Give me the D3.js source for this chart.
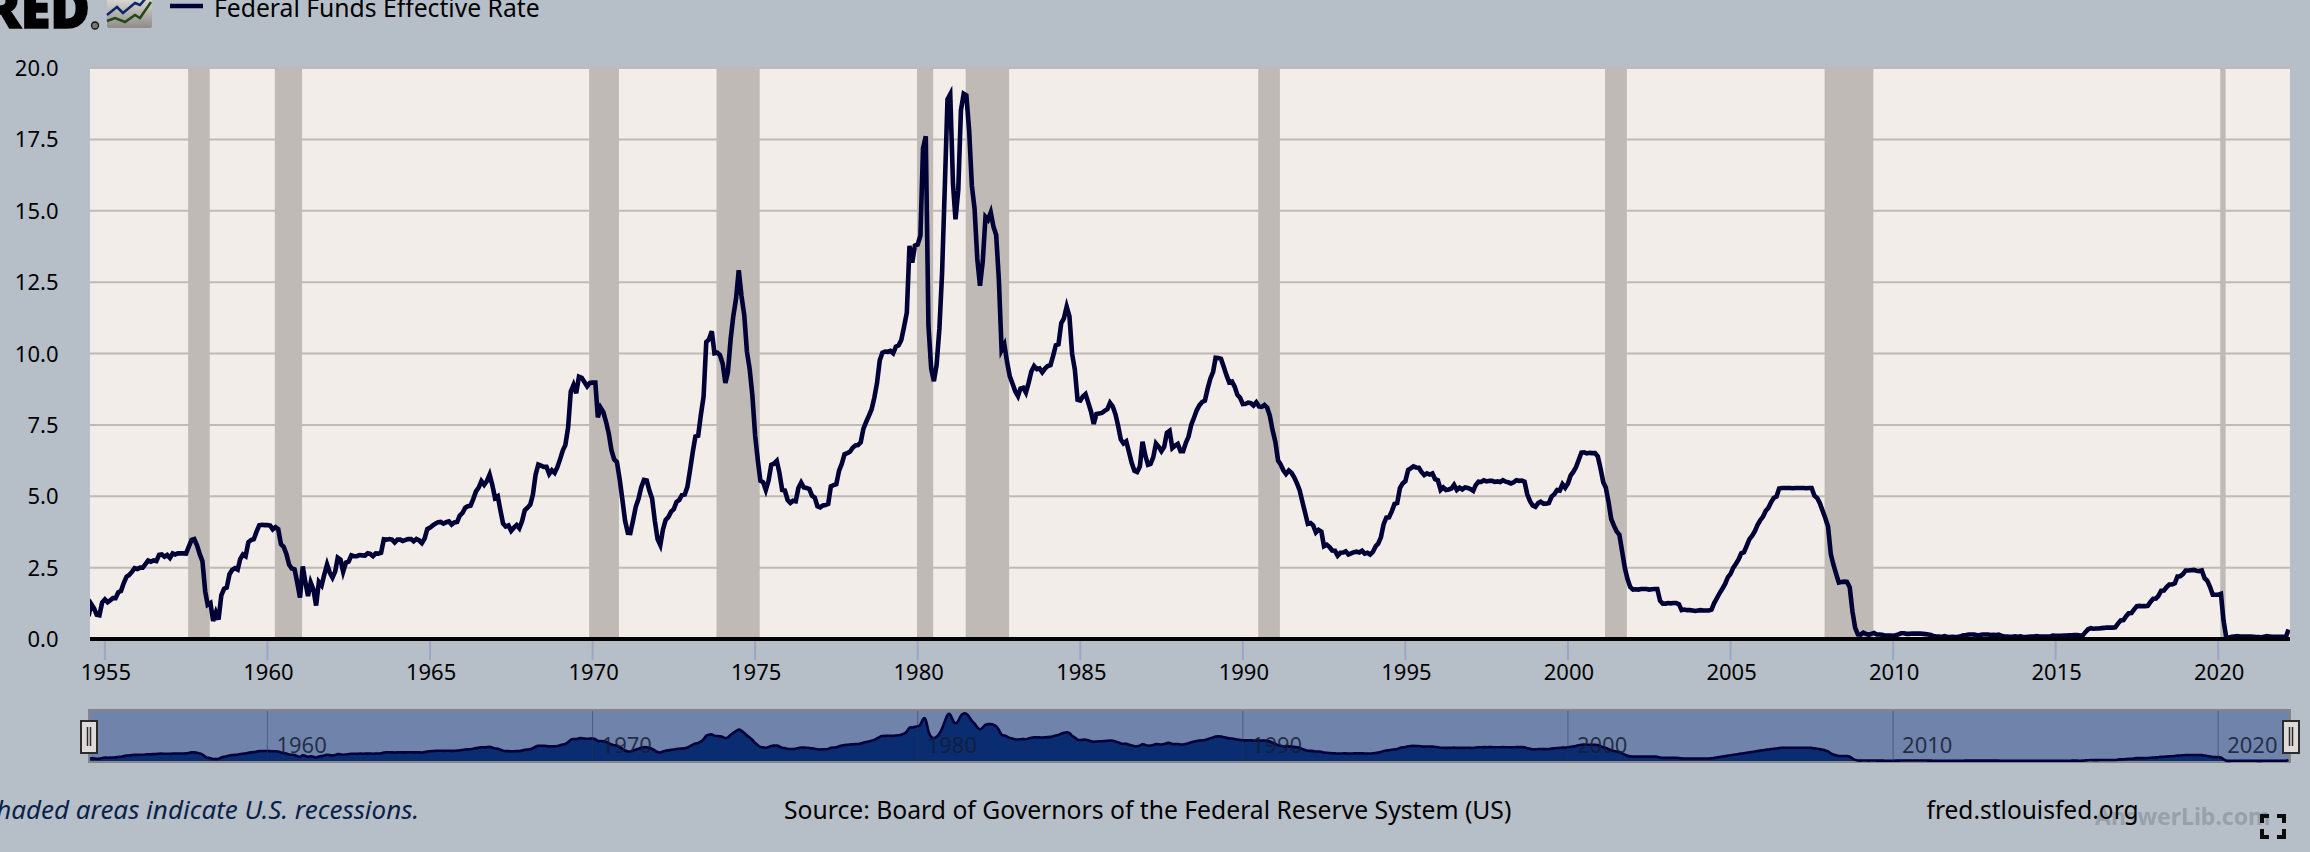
<!DOCTYPE html>
<html><head><meta charset="utf-8">
<script src="https://cdn.jsdelivr.net/npm/d3@7/dist/d3.min.js"></script>
<style>
html,body{margin:0;padding:0;background:#b6bfc8;overflow:hidden}
svg{display:block}
text{font-family:"Noto Sans","Open Sans",sans-serif}
</style></head><body>
<svg id="c" width="2310" height="852"></svg>
<script>
const seriesName = "Federal Funds Effective Rate";
const startMonth = [1954, 7];
const rates = [
0.80,1.22,1.07,0.85,0.83,1.28,
1.39,1.29,1.35,1.43,1.43,1.64,1.68,1.96,2.18,2.24,2.35,2.48,
2.45,2.50,2.50,2.62,2.75,2.71,2.75,2.73,2.95,2.96,2.88,2.94,
2.84,3.00,2.96,3.00,3.00,3.00,2.99,3.24,3.47,3.50,3.28,2.98,
2.72,1.67,1.20,1.26,0.63,0.93,0.68,1.53,1.76,1.80,2.27,2.42,
2.48,2.43,2.80,2.96,2.90,3.39,3.47,3.50,3.76,3.98,4.00,3.99,
3.99,3.97,3.84,3.92,3.85,3.32,3.23,2.98,2.60,2.47,2.44,1.98,
1.45,2.54,2.02,1.50,1.98,1.73,1.17,2.00,1.88,2.26,2.61,2.33,
2.15,2.37,2.85,2.78,2.36,2.68,2.71,2.93,2.90,2.90,2.94,2.93,
2.92,3.00,2.98,2.90,3.00,2.99,3.02,3.49,3.48,3.50,3.48,3.38,
3.48,3.48,3.43,3.47,3.50,3.50,3.42,3.50,3.45,3.36,3.52,3.85,
3.90,3.98,4.04,4.09,4.10,4.04,4.09,4.12,4.01,4.08,4.10,4.32,
4.42,4.60,4.65,4.67,4.90,5.17,5.30,5.53,5.40,5.53,5.76,5.40,
4.94,5.00,4.53,4.05,3.94,3.98,3.79,3.90,3.99,3.88,4.13,4.51,
4.60,4.71,5.05,5.76,6.11,6.07,6.03,6.03,5.78,5.91,5.82,6.02,
6.30,6.61,6.79,7.41,8.67,8.90,8.61,9.19,9.15,9.00,8.85,8.97,
8.98,8.98,7.76,8.10,7.95,7.61,7.21,6.61,6.29,6.20,5.60,4.90,
4.14,3.72,3.71,4.16,4.63,4.91,5.31,5.57,5.55,5.20,4.91,4.14,
3.50,3.29,3.83,4.17,4.27,4.46,4.55,4.80,4.87,5.04,5.06,5.33,
5.94,6.58,7.09,7.12,7.84,8.49,10.40,10.50,10.78,10.01,10.03,9.95,
9.65,8.97,9.35,10.51,11.31,11.93,12.92,12.01,11.34,10.06,9.45,8.53,
7.13,6.24,5.54,5.49,5.22,5.55,6.10,6.14,6.24,5.82,5.22,5.20,
4.87,4.77,4.84,4.82,5.29,5.48,5.31,5.29,5.25,5.02,4.95,4.65,
4.61,4.68,4.69,4.73,5.35,5.39,5.42,5.90,6.14,6.47,6.51,6.56,
6.70,6.78,6.79,6.89,7.36,7.60,7.81,8.04,8.45,8.96,9.76,10.03,
10.07,10.06,10.09,10.01,10.24,10.29,10.47,10.94,11.43,13.77,13.18,13.78,
13.82,14.13,17.19,17.61,10.98,9.47,9.03,9.61,10.87,12.81,15.85,18.90,
19.08,15.93,14.70,15.72,18.52,19.10,19.04,17.82,15.87,15.08,13.31,12.37,
13.22,14.78,14.68,14.94,14.45,14.15,12.59,10.12,10.31,9.71,9.20,8.95,
8.68,8.51,8.77,8.80,8.63,8.98,9.37,9.56,9.45,9.48,9.34,9.47,
9.56,9.59,9.91,10.29,10.32,11.06,11.23,11.64,11.30,9.99,9.43,8.38,
8.35,8.50,8.58,8.27,7.97,7.53,7.88,7.90,7.92,7.99,8.05,8.27,
8.14,7.86,7.48,6.99,6.85,6.92,6.56,6.17,5.89,5.85,6.04,6.91,
6.43,6.10,6.13,6.37,6.85,6.73,6.58,6.73,7.22,7.29,6.69,6.77,
6.83,6.58,6.58,6.87,7.09,7.51,7.75,8.01,8.19,8.30,8.35,8.76,
9.12,9.36,9.85,9.84,9.81,9.53,9.24,8.99,9.02,8.84,8.55,8.45,
8.23,8.24,8.28,8.26,8.18,8.29,8.15,8.13,8.20,8.11,7.81,7.31,
6.91,6.25,6.12,5.91,5.78,5.90,5.82,5.66,5.45,5.21,4.81,4.43,
4.03,4.06,3.98,3.73,3.82,3.76,3.25,3.30,3.22,3.10,3.09,2.92,
3.02,3.03,3.07,2.96,3.00,3.04,3.06,3.03,3.09,2.99,3.02,2.96,
3.05,3.25,3.34,3.56,4.01,4.25,4.26,4.47,4.73,4.76,5.29,5.45,
5.53,5.92,5.98,6.05,6.01,6.00,5.85,5.74,5.80,5.76,5.80,5.60,
5.56,5.22,5.31,5.22,5.24,5.27,5.40,5.22,5.30,5.24,5.31,5.29,
5.25,5.19,5.39,5.51,5.50,5.56,5.52,5.54,5.54,5.50,5.52,5.50,
5.56,5.51,5.49,5.45,5.49,5.56,5.54,5.55,5.51,5.07,4.83,4.68,
4.63,4.76,4.81,4.74,4.74,4.76,4.99,5.07,5.22,5.20,5.42,5.30,
5.45,5.73,5.85,6.02,6.27,6.53,6.54,6.50,6.52,6.51,6.51,6.40,
5.98,5.49,5.31,4.80,4.21,3.97,3.77,3.65,3.07,2.49,2.09,1.82,
1.73,1.74,1.73,1.75,1.75,1.75,1.73,1.74,1.75,1.75,1.34,1.24,
1.24,1.26,1.25,1.26,1.26,1.22,1.01,1.03,1.01,1.01,1.00,0.98,
1.00,1.01,1.00,1.00,1.00,1.03,1.26,1.43,1.61,1.76,1.93,2.16,
2.28,2.50,2.63,2.79,3.00,3.04,3.26,3.50,3.62,3.78,4.00,4.16,
4.29,4.49,4.59,4.79,4.94,4.99,5.27,5.29,5.29,5.29,5.29,5.28,
5.29,5.29,5.29,5.29,5.28,5.29,5.29,5.02,4.94,4.76,4.49,4.24,
3.94,2.98,2.61,2.28,1.98,2.00,2.01,2.00,1.81,0.97,0.39,0.16,
0.15,0.22,0.18,0.15,0.18,0.21,0.16,0.16,0.15,0.12,0.12,0.12,
0.11,0.13,0.16,0.20,0.20,0.18,0.18,0.19,0.19,0.19,0.19,0.18,
0.17,0.16,0.14,0.10,0.09,0.09,0.07,0.10,0.08,0.07,0.08,0.07,
0.08,0.10,0.13,0.14,0.16,0.16,0.16,0.13,0.14,0.16,0.16,0.16,
0.14,0.15,0.14,0.15,0.11,0.09,0.09,0.08,0.08,0.09,0.08,0.09,
0.07,0.07,0.08,0.09,0.09,0.10,0.09,0.09,0.09,0.09,0.09,0.12,
0.11,0.11,0.11,0.12,0.12,0.13,0.13,0.14,0.14,0.12,0.12,0.24,
0.34,0.38,0.36,0.37,0.37,0.38,0.39,0.40,0.40,0.40,0.41,0.54,
0.65,0.66,0.79,0.90,0.91,1.04,1.15,1.16,1.15,1.15,1.16,1.30,
1.41,1.42,1.51,1.69,1.70,1.82,1.91,1.91,1.95,2.19,2.20,2.27,
2.40,2.40,2.41,2.42,2.39,2.38,2.40,2.13,2.04,1.83,1.55,1.55,
1.55,1.58,0.65,0.05,0.05,0.08,0.09,0.10,0.09,0.09,0.09,0.09,
0.09,0.08,0.07,0.07,0.06,0.08,0.10,0.09,0.08,0.08,0.08,0.08,
0.08,0.08,0.33];
const recessionStarts = ["1957-08","1960-04","1969-12","1973-11","1980-01","1981-07","1990-07","2001-03","2007-12","2020-02"];
const recessionEnds   = ["1958-04","1961-02","1970-11","1975-03","1980-07","1982-11","1991-03","2001-11","2009-06","2020-04"];
const yTicks = [0,2.5,5,7.5,10,12.5,15,17.5,20];
const xTickYears = [1955,1960,1965,1970,1975,1980,1985,1990,1995,2000,2005,2010,2015,2020];
const navTickYears = [1960,1970,1980,1990,2000,2010,2020];
const sourceText = "Source: Board of Governors of the Federal Reserve System (US)";
const shadedText = "Shaded areas indicate U.S. recessions.";
const siteText = "fred.stlouisfed.org";
const watermark = "AnswerLib.com";

const parseYM = d3.timeParse("%Y-%m");
const data = rates.map((v,i)=>({date:new Date(startMonth[0],startMonth[1]-1+i,1),v}));
const svg = d3.select("#c");
const L=90,R=2290,T=68,B=639;
const x = d3.scaleTime().domain([new Date(1954,6,1),new Date(2022,2,1)]).range([88.5,2288.5]);
const y = d3.scaleLinear().domain([0,20]).range([B,T]);
const yNav = d3.scaleLinear().domain([0,20]).range([761,711]);
const defs = svg.append("defs");
defs.append("clipPath").attr("id","plotClip").append("rect").attr("x",L).attr("y",0).attr("width",R-L).attr("height",852);

// plot
svg.append("rect").attr("x",L).attr("y",T).attr("width",R-L).attr("height",B-T).attr("fill","#f2ede9");
svg.append("g").selectAll("line").data(yTicks.filter(d=>d>0&&d<20)).join("line")
  .attr("x1",L).attr("x2",R).attr("y1",y).attr("y2",y).attr("stroke","#bfbab5").attr("stroke-width",2);
svg.append("line").attr("x1",L).attr("x2",R).attr("y1",T).attr("y2",T).attr("stroke","#bfbab5").attr("stroke-width",2);
svg.append("g").attr("transform","translate(-0.7,0)").selectAll("rect").data(recessionStarts.map((s,i)=>[parseYM(s),parseYM(recessionEnds[i])])).join("rect")
  .attr("x",d=>x(d[0])).attr("width",d=>x(d[1])-x(d[0])).attr("y",T-1).attr("height",B-T+1).attr("fill","#bfbab5");

// y axis labels
svg.append("g").selectAll("text").data(yTicks).join("text")
  .attr("x",58.5).attr("y",d=>y(d)+8).attr("text-anchor","end").attr("font-size",22).attr("fill","#000")
  .text(d3.format(".1f"));
// x axis
const xg = svg.append("g").selectAll("g").data(xTickYears).join("g").attr("transform",d=>`translate(${x(new Date(d,0,1))},0)`);
xg.append("line").attr("y1",641).attr("y2",660).attr("stroke","#9aa6c4").attr("stroke-width",2);
xg.append("text").attr("y",680).attr("x",1).attr("text-anchor","middle").attr("font-size",22).attr("fill","#000").text(d=>d);

// series
const line = d3.line().x(d=>x(d.date)).y(d=>y(d.v));
svg.append("path").datum(data).attr("d",line).attr("clip-path","url(#plotClip)").attr("fill","none").attr("stroke","#000036").attr("stroke-width",4.6).attr("stroke-linejoin","miter");
svg.append("line").attr("x1",L).attr("x2",R).attr("y1",B).attr("y2",B).attr("stroke","#000").attr("stroke-width",4);

// navigator
svg.append("rect").attr("x",89).attr("y",710).attr("width",2201).attr("height",52).attr("fill","#7083ab").attr("stroke","#858585").attr("stroke-width",2);
svg.append("path").datum(data).attr("d",d3.area().curve(d3.curveBasis).x(d=>x(d.date)).y0(761).y1(d=>yNav(d.v))).attr("clip-path","url(#plotClip)").attr("fill","#0a2c70");
svg.append("path").datum(data).attr("d",d3.line().curve(d3.curveBasis).x(d=>x(d.date)).y(d=>yNav(d.v))).attr("clip-path","url(#plotClip)").attr("fill","none").attr("stroke","#00003a").attr("stroke-width",2.6);
const ng = svg.append("g").selectAll("g").data(navTickYears).join("g").attr("transform",d=>`translate(${x(new Date(d,0,1))},0)`);
ng.append("line").attr("y1",711).attr("y2",761).attr("stroke","#2a3654").attr("stroke-opacity",.5).attr("stroke-width",1);
ng.append("text").attr("x",9).attr("y",753).attr("font-size",22).attr("fill","#141c34").attr("fill-opacity",.85).text(d=>d);
[81,2283].forEach(hx=>{
  const h=svg.append("g").attr("transform",`translate(${hx},721)`);
  h.append("rect").attr("width",16).attr("height",32).attr("fill","#dedbd8").attr("stroke","#2b2b2b").attr("stroke-width",2);
  h.append("path").attr("d","M6.5 6V25M9.5 6V25").attr("stroke","#2b2b2b").attr("stroke-width",1.5);
});

// footer
svg.append("text").attr("x",-17).attr("y",819).attr("font-size",26).attr("font-style","italic").attr("fill","#0b1f4b").text(shadedText);
svg.append("text").attr("x",784).attr("y",819).attr("font-size",24.7).attr("fill","#000").text(sourceText);
svg.append("text").attr("x",2095).attr("y",825).attr("font-size",23).attr("font-weight",700).attr("fill","#98a0a8").text(watermark);
svg.append("text").attr("x",1926.5).attr("y",819).attr("font-size",24.5).attr("fill","#000").text(siteText);
// full-screen icon
svg.append("path").attr("d","M2260 814h9v4h-5v5h-4zM2277 814h9v9h-4v-5h-5zM2260 829h4v6h5v4h-9zM2282 829h4v10h-9v-4h5z").attr("fill","#0c0c0c");

// legend
svg.append("line").attr("x1",170).attr("x2",203).attr("y1",6).attr("y2",6).attr("stroke","#000036").attr("stroke-width",4.6);
svg.append("text").attr("x",214).attr("y",17).attr("font-size",24.7).attr("fill","#000").text(seriesName);
// logo
svg.append("text").attr("x",90).attr("y",28).attr("text-anchor","end").attr("font-size",54).attr("font-weight",900).attr("stroke","#000").attr("stroke-width",1.5).attr("fill","#000").text("FRED");
svg.append("circle").attr("cx",95).attr("cy",25.5).attr("r",3.5).attr("fill","#777").attr("stroke","#111").attr("stroke-width",1.3);
const grad=defs.append("linearGradient").attr("id","lg").attr("x1",0).attr("x2",0).attr("y1",0).attr("y2",1);
grad.append("stop").attr("offset",0).attr("stop-color","#e8e5e1");
grad.append("stop").attr("offset",1).attr("stop-color","#8f8b88");
svg.append("rect").attr("x",107).attr("y",-6).attr("width",45).attr("height",34).attr("rx",2).attr("fill","url(#lg)");
svg.append("path").attr("d","M107 15L117 7L123 13L135 3L140 5L146 -2").attr("fill","none").attr("stroke","#0b2a6b").attr("stroke-width",2.5);
svg.append("path").attr("d","M107 21L115 18L125 22L135 15L140 18L151 2").attr("fill","none").attr("stroke","#1f4a14").attr("stroke-width",2.5);
</script>
</body></html>
